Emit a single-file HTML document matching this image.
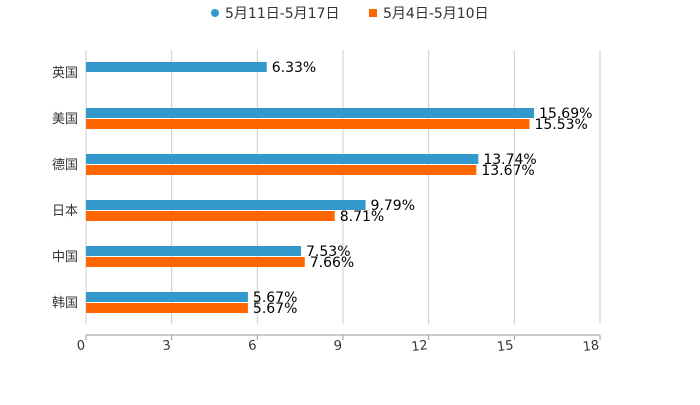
<!DOCTYPE html>
<html><head><meta charset="utf-8"><style>
body{margin:0;background:#fff;}
svg{font-family:"DejaVu Sans","Noto Sans CJK SC",sans-serif;}
</style></head><body>
<svg id="chart" width="700" height="400">
<g>
  <g>
    <circle cx="215" cy="13" r="4" fill="#3399cc"/>
    <text x="225" y="18" font-size="14" fill="#333">5月11日-5月17日</text>
  </g>
  <g>
    <rect x="369" y="9" width="8" height="8" fill="#ff6600"/>
    <text x="383" y="18" font-size="14" fill="#333">5月4日-5月10日</text>
  </g>
</g>
<g id="grid"></g>
<g id="bars"></g>
<g id="axes"></g>
</svg>
<script>
const categories=["英国","美国","德国","日本","中国","韩国"];
const seriesA=[6.33,15.69,13.74,9.79,7.53,5.67];
const seriesB=[null,15.53,13.67,8.71,7.66,5.67];
const ticks=[0,3,6,9,12,15,18];
const NS="http://www.w3.org/2000/svg";
const x0=86,x1=600,xmax=18;
const xs=v=>x0+(x1-x0)*v/xmax;
const yc=i=>72+46*i;
function mk(t,a,p){const e=document.createElementNS(NS,t);for(const k in a)e.setAttribute(k,a[k]);p.appendChild(e);return e;}
const grid=document.getElementById('grid'),bars=document.getElementById('bars'),axes=document.getElementById('axes');
ticks.forEach(t=>{
  const l=mk('line',{x1:xs(t),x2:xs(t),y1:50,y2:324,stroke:'#ccc','stroke-width':1},grid);
  
  
  const tk=mk('line',{x1:xs(t),x2:xs(t),y1:335,y2:340,stroke:'#999'},axes);
  
  
  const tx=mk('text',{x:xs(t)-1,y:349,'font-size':13,fill:'#333','text-anchor':'end',transform:`rotate(-7 ${xs(t)} 344)`},axes);
  tx.textContent=t;
  
  
});
const ax=mk('line',{x1:x0,x2:x1,y1:335,y2:335,stroke:'#999'},axes);


categories.forEach((c,i)=>{
  const t=mk('text',{x:78,y:yc(i)+5,'font-size':13,fill:'#333','text-anchor':'end'},axes);
  t.textContent=c;
  
  
  [[seriesA,'#3399cc',-10],[seriesB,'#ff6600',1]].forEach(([s,col,off])=>{
    const v=s[i]; if(v==null) return;
    const r=mk('rect',{x:x0,y:yc(i)+off,width:xs(v)-x0,height:10,fill:col},bars);
    
    
    const lb=mk('text',{x:xs(v)+5,y:yc(i)+off+10,'font-size':14,fill:'#000'},bars);
    lb.textContent=v.toFixed(2)+'%';
    
    
  });
});
</script>
</body></html>
